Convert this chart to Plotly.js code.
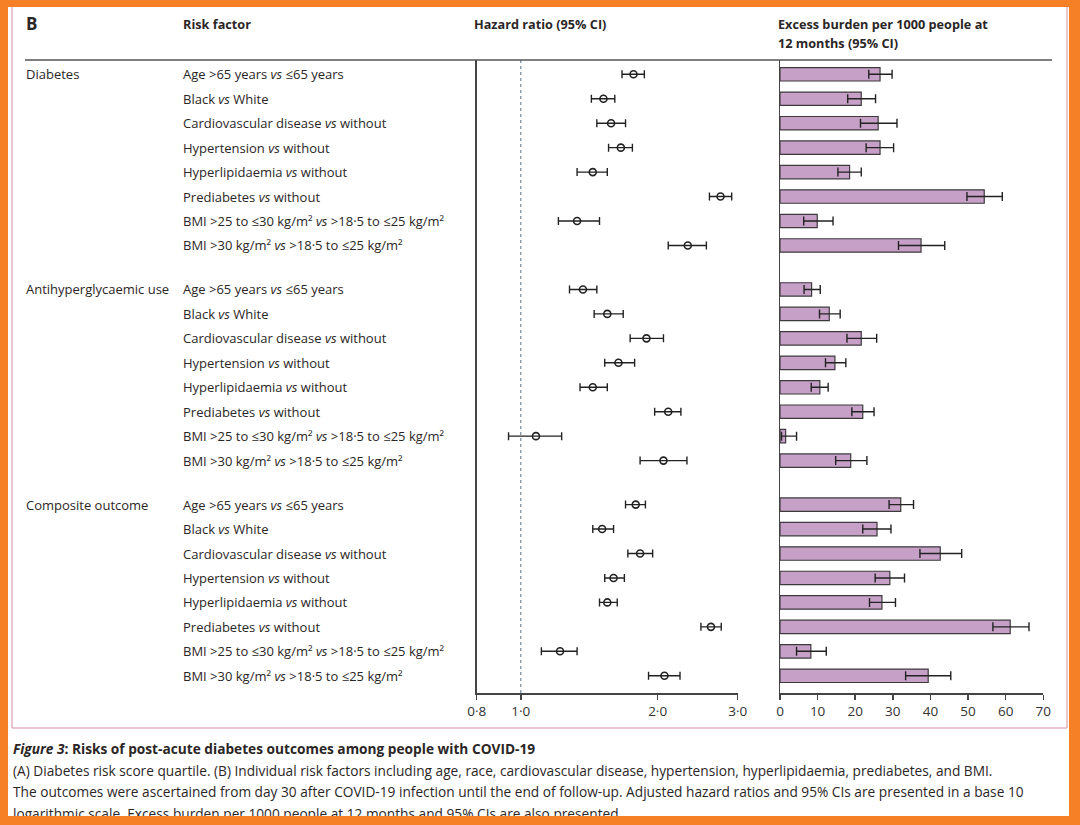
<!DOCTYPE html>
<html>
<head>
<meta charset="utf-8">
<script src="https://cdn.plot.ly/plotly-3.0.1.min.js"></script>
<style>
  html, body { margin: 0; padding: 0; background: #fff; }
  #wrap { position: relative; width: 1080px; height: 825px; overflow: hidden; }
  #chart { width: 1080px; height: 825px; }
  #frame { position: absolute; left: 0; top: 0; width: 1080px; height: 825px; box-sizing: border-box;
           border-style: solid; border-color: #F58025; border-width: 7px 11px 9px 8px; pointer-events: none; }
</style>
</head>
<body>
<div id="wrap"><div id="chart"></div><div id="frame"></div></div>
<script>
// ---------- data ----------
const groups = ['Diabetes', 'Antihyperglycaemic use', 'Composite outcome'];
const factors = [
  'Age >65 years <i>vs</i> ≤65 years',
  'Black <i>vs</i> White',
  'Cardiovascular disease <i>vs</i> without',
  'Hypertension <i>vs</i> without',
  'Hyperlipidaemia <i>vs</i> without',
  'Prediabetes <i>vs</i> without',
  'BMI >25 to ≤30 kg/m² <i>vs</i> >18·5 to ≤25 kg/m²',
  'BMI >30 kg/m² <i>vs</i> >18·5 to ≤25 kg/m²'
];
// hazard ratios (per group: rows in factor order)
const hrEst = [
  [1.77, 1.52, 1.58, 1.66, 1.44, 2.75, 1.33, 2.33],
  [1.37, 1.55, 1.89, 1.64, 1.44, 2.11, 1.08, 2.06],
  [1.79, 1.51, 1.83, 1.60, 1.55, 2.62, 1.22, 2.07]
];
const hrLow = [
  [1.67, 1.43, 1.47, 1.56, 1.33, 2.60, 1.21, 2.11],
  [1.28, 1.45, 1.74, 1.53, 1.35, 1.97, 0.94, 1.83],
  [1.70, 1.44, 1.72, 1.53, 1.49, 2.49, 1.11, 1.91]
];
const hrHigh = [
  [1.87, 1.61, 1.70, 1.76, 1.55, 2.91, 1.49, 2.56],
  [1.47, 1.68, 2.06, 1.78, 1.55, 2.25, 1.23, 2.32],
  [1.88, 1.60, 1.95, 1.69, 1.63, 2.76, 1.33, 2.24]
];
// excess burden per 1000 people at 12 months
const burdenEst = [
  [26.6, 21.6, 26.1, 26.6, 18.5, 54.3, 9.9, 37.5],
  [8.4, 13.1, 21.6, 14.6, 10.6, 22.0, 1.5, 18.8],
  [32.1, 25.8, 42.6, 29.2, 27.1, 61.2, 8.2, 39.4]
];
const burdenLow = [
  [23.6, 18.0, 21.4, 22.9, 15.4, 49.7, 6.3, 31.5],
  [6.4, 10.5, 17.8, 12.1, 8.3, 19.1, 0.4, 14.8],
  [29.0, 22.0, 37.2, 25.3, 23.8, 56.6, 4.4, 33.4]
];
const burdenHigh = [
  [29.8, 25.4, 31.1, 30.2, 21.6, 59.1, 14.1, 43.8],
  [10.7, 16.0, 25.7, 17.5, 12.8, 25.0, 4.4, 23.1],
  [35.5, 29.5, 48.3, 33.1, 30.7, 66.2, 12.3, 45.4]
];
const hrTicks = [0.8, 1.0, 2.0, 3.0];
const hrTickText = ['0·8', '1·0', '2·0', '3·0'];
const burdenTicks = [0, 10, 20, 30, 40, 50, 60, 70];

// ---------- layout helpers ----------
const W = 1080, H = 825;
const px = v => v / W;
const py = v => 1 - v / H;
const groupStride = 8.8;          // rows per group incl. gap
const pos = (g, i) => g * groupStride + i;

const ys = [], hx = [], hPlus = [], hMinus = [], bx = [], bPlus = [], bMinus = [];
groups.forEach((g, gi) => {
  factors.forEach((f, i) => {
    ys.push(pos(gi, i));
    hx.push(hrEst[gi][i]);
    hPlus.push(hrHigh[gi][i] - hrEst[gi][i]);
    hMinus.push(hrEst[gi][i] - hrLow[gi][i]);
    bx.push(burdenEst[gi][i]);
    bPlus.push(burdenHigh[gi][i] - burdenEst[gi][i]);
    bMinus.push(burdenEst[gi][i] - burdenLow[gi][i]);
  });
});

const ink = '#2b2626';
const FONT = '"Open Sans", "DejaVu Sans", sans-serif';

const traces = [
  {
    type: 'scatter', mode: 'markers', x: hx, y: ys, xaxis: 'x', yaxis: 'y',
    marker: { symbol: 'circle-open', size: 7, color: '#222', line: { width: 1.6, color: '#222' } },
    error_x: { type: 'data', symmetric: false, array: hPlus, arrayminus: hMinus,
               color: '#222', thickness: 1.4, width: 4 },
    hoverinfo: 'skip', showlegend: false
  },
  {
    type: 'bar', orientation: 'h', x: bx, y: ys, xaxis: 'x2', yaxis: 'y2', width: 0.55,
    marker: { color: '#C6A0C6', line: { color: '#3d3a3c', width: 1.2 } },
    error_x: { type: 'data', symmetric: false, array: bPlus, arrayminus: bMinus,
               color: '#222', thickness: 1.4, width: 4.5 },
    hoverinfo: 'skip', showlegend: false
  }
];

// y range so rows land where the reference puts them
const rowPx = 24.45, firstRowPx = 74.3, topPx = 60, bottomPx = 693;
const lastRow = pos(groups.length - 1, factors.length - 1);
const yTop = -(firstRowPx - topPx) / rowPx;
const yBottom = lastRow + (bottomPx - (firstRowPx + lastRow * rowPx)) / rowPx;

const yDomain = [py(bottomPx), py(topPx)];
const yCommon = {
  domain: yDomain, range: [yBottom, yTop], showgrid: false, zeroline: false,
  showticklabels: false, ticks: '', showline: true, linecolor: '#444', linewidth: 1.5
};
const xTickFont = { family: FONT, size: 13.5, color: '#333' };

const annotations = [];
// headers
const hdr = (text, x, y, size) => annotations.push({
  text: text, xref: 'paper', yref: 'paper', x: px(x), y: py(y), xanchor: 'left', yanchor: 'middle',
  showarrow: false, align: 'left', font: { family: FONT, size: size || 12.7, color: ink }
});
hdr('<b>B</b>', 24, 24, 17);
hdr('<b>Risk factor</b>', 181, 24);
hdr('<b>Hazard ratio (95% CI)</b>', 472, 24);
hdr('<b>Excess burden per 1000 people at</b>', 776, 24);
hdr('<b>12 months (95% CI)</b>', 776, 43);

groups.forEach((g, gi) => {
  annotations.push({
    text: g, xref: 'paper', yref: 'y', x: px(24), y: pos(gi, 0), xanchor: 'left', yanchor: 'middle',
    showarrow: false, font: { family: FONT, size: 13, color: ink }
  });
  factors.forEach((f, i) => {
    annotations.push({
      text: f, xref: 'paper', yref: 'y', x: px(181), y: pos(gi, i), xanchor: 'left', yanchor: 'middle',
      showarrow: false, font: { family: FONT, size: 13, color: ink }
    });
  });
});

// caption
const captionLines = [
  '<b><i>Figure 3</i>: Risks of post-acute diabetes outcomes among people with COVID-19</b>',
  '(A) Diabetes risk score quartile. (B) Individual risk factors including age, race, cardiovascular disease, hypertension, hyperlipidaemia, prediabetes, and BMI.',
  'The outcomes were ascertained from day 30 after COVID-19 infection until the end of follow-up. Adjusted hazard ratios and 95% CIs are presented in a base 10',
  'logarithmic scale. Excess burden per 1000 people at 12 months and 95% CIs are also presented.'
];
const captionY = [748, 770, 791, 813];
captionLines.forEach((t, i) => annotations.push({
  text: t, xref: 'paper', yref: 'paper', x: px(11), y: py(captionY[i]), xanchor: 'left', yanchor: 'middle',
  showarrow: false, align: 'left', font: { family: FONT, size: 13.7, color: ink }
}));

const shapes = [
  // pink panel frame
  { type: 'rect', xref: 'paper', yref: 'paper', x0: px(12), x1: px(1067), y0: py(728), y1: py(-5),
    line: { color: '#d98aa5', width: 1 }, fillcolor: 'rgba(0,0,0,0)', layer: 'below' },
  // header rule
  { type: 'line', xref: 'paper', yref: 'paper', x0: px(25), x1: px(1052), y0: py(topPx), y1: py(topPx),
    line: { color: '#555', width: 1.5 } },
  // reference line at HR = 1
  { type: 'line', xref: 'x', yref: 'paper', x0: 1, x1: 1, y0: yDomain[0], y1: yDomain[1],
    line: { color: '#7f8fa0', width: 1.3, dash: 'dot' }, layer: 'below' }
];

const layout = {
  width: W, height: H, margin: { l: 0, r: 0, t: 0, b: 0 },
  paper_bgcolor: '#fff', plot_bgcolor: 'rgba(0,0,0,0)',
  showlegend: false, bargap: 0,
  xaxis: {
    type: 'log', domain: [px(476.7), px(737.7)], range: [Math.log10(0.8), Math.log10(3.0)],
    anchor: 'y', tickmode: 'array', tickvals: hrTicks, ticktext: hrTickText,
    ticks: 'outside', ticklen: 5, tickwidth: 1.5, tickcolor: '#444',
    showline: true, linecolor: '#444', linewidth: 1.5, showgrid: false, zeroline: false,
    tickfont: xTickFont
  },
  yaxis: Object.assign({}, yCommon, { anchor: 'x' }),
  xaxis2: {
    domain: [px(780), px(1043.3)], range: [0, 70], anchor: 'y2',
    tickmode: 'array', tickvals: burdenTicks, ticks: 'outside', ticklen: 5, tickwidth: 1.5, tickcolor: '#444',
    showline: true, linecolor: '#444', linewidth: 1.5, showgrid: false, zeroline: false,
    tickfont: xTickFont
  },
  yaxis2: Object.assign({}, yCommon, { anchor: 'x2' }),
  annotations: annotations,
  shapes: shapes
};

Plotly.newPlot('chart', traces, layout, { staticPlot: true, displayModeBar: false });
</script>
</body>
</html>
